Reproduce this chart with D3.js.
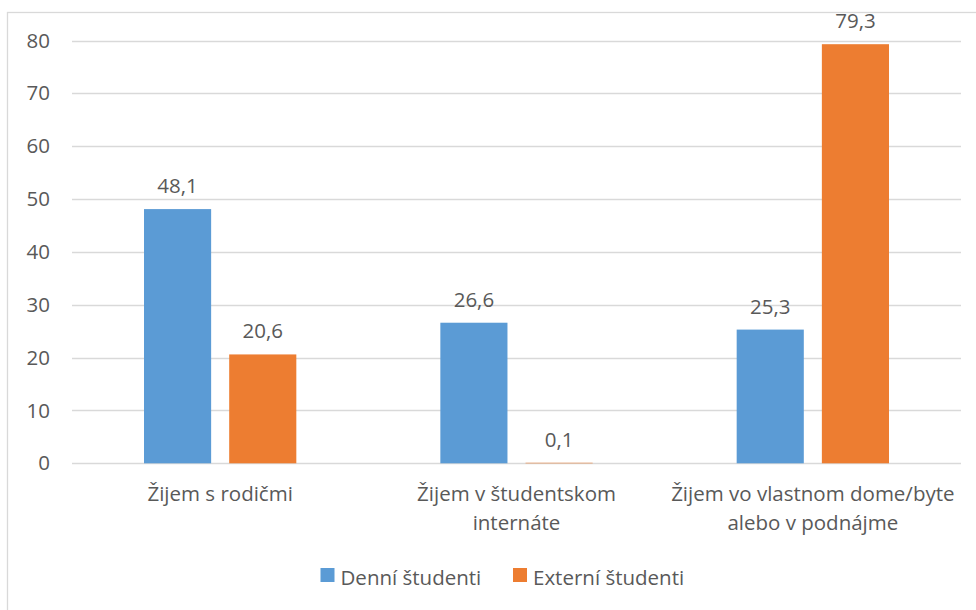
<!DOCTYPE html>
<html>
<head>
<meta charset="utf-8">
<title>Bývanie študentov</title>
<script src="https://d3js.org/d3.v7.min.js"></script>
<style>
  body { margin: 0; background: #fff; }
  text { font-family: "Open Sans", sans-serif; fill: #595959; }
</style>
</head>
<body>
<svg id="chart" width="976" height="610"></svg>
<script>
// data
var categories = ["Žijem s rodičmi", "Žijem v študentskom internáte", "Žijem vo vlastnom dome/byte alebo v podnájme"];
var categoryLines = [["Žijem s rodičmi"], ["Žijem v študentskom", "internáte"], ["Žijem vo vlastnom dome/byte", "alebo v podnájme"]];
var seriesNames = ["Denní študenti", "Externí študenti"];
var denni = [48.1, 26.6, 25.3];
var externi = [20.6, 0.1, 79.3];
var yTicks = [0, 10, 20, 30, 40, 50, 60, 70, 80];
var colors = ["#5B9BD5", "#ED7D31"];

var fs = 20.5;
var svg = d3.select("#chart");

// chart frame (runs off the right and bottom of the picture)
svg.append("rect")
  .attr("x", 7.5).attr("y", 12.5)
  .attr("width", 1000).attr("height", 700)
  .attr("fill", "none")
  .attr("stroke", "#D9D9D9")
  .attr("stroke-width", 1.3);

var left = 72, right = 961;

var y = d3.scaleLinear().domain([0, 80]).range([463.3, 40.5]);

var x0 = d3.scaleBand().domain(categories).range([left, right]).padding(0);
var bw = x0.bandwidth();
var x1 = d3.scaleBand().domain(seriesNames)
  .range([bw * 0.243, bw * 0.757])
  .paddingInner(0.212);

// gridlines
svg.append("g")
  .selectAll("line")
  .data(yTicks)
  .join("line")
  .attr("x1", left).attr("x2", right)
  .attr("y1", function(d) { return Math.round(y(d)) + 0.5; })
  .attr("y2", function(d) { return Math.round(y(d)) + 0.5; })
  .attr("stroke", "#D9D9D9")
  .attr("stroke-width", 1.3);

// y axis labels
var yAxis = svg.append("g")
  .attr("transform", "translate(" + left + ",0)")
  .call(d3.axisLeft(y).tickValues(yTicks).tickSize(0).tickPadding(22));
yAxis.select(".domain").remove();
yAxis.selectAll("text")
  .attr("font-size", fs)
  .attr("font-family", "'Open Sans', sans-serif")
  .attr("fill", "#595959");

var rows = categories.map(function(c, i) {
  return { cat: c, values: [denni[i], externi[i]] };
});

var groups = svg.append("g")
  .selectAll("g")
  .data(rows)
  .join("g")
  .attr("transform", function(d) { return "translate(" + x0(d.cat) + ",0)"; });

groups.selectAll("rect")
  .data(function(d) { return d.values.map(function(v, j) { return { s: seriesNames[j], v: v, j: j }; }); })
  .join("rect")
  .attr("x", function(d) { return x1(d.s); })
  .attr("width", x1.bandwidth())
  .attr("y", function(d) { return y(d.v); })
  .attr("height", function(d) { return y(0) - y(d.v); })
  .attr("fill", function(d) { return colors[d.j]; });

// value labels
groups.selectAll("text.val")
  .data(function(d) { return d.values.map(function(v, j) { return { s: seriesNames[j], v: v }; }); })
  .join("text")
  .attr("class", "val")
  .attr("x", function(d) { return x1(d.s) + x1.bandwidth() / 2; })
  .attr("y", function(d) { return y(d.v) - 16; })
  .attr("text-anchor", "middle")
  .attr("font-size", fs)
  .text(function(d) { return d3.format(".1f")(d.v).replace(".", ","); });

// category labels
svg.append("g")
  .selectAll("text")
  .data(categories)
  .join("text")
  .attr("x", function(d) { return x0(d) + bw / 2; })
  .attr("y", 501)
  .attr("text-anchor", "middle")
  .attr("font-size", fs)
  .each(function(d, i) {
    var t = d3.select(this);
    categoryLines[i].forEach(function(line, k) {
      t.append("tspan")
        .attr("x", x0(d) + bw / 2)
        .attr("dy", k === 0 ? 0 : 28.5)
        .text(line);
    });
  });

// legend
var legendX = [320.5, 513];
var legend = svg.append("g")
  .selectAll("g")
  .data(seriesNames)
  .join("g")
  .attr("transform", function(d, i) { return "translate(" + legendX[i] + ",568)"; });
legend.append("rect")
  .attr("width", 14).attr("height", 14)
  .attr("fill", function(d, i) { return colors[i]; });
legend.append("text")
  .attr("x", 20).attr("y", 17)
  .attr("font-size", fs)
  .text(function(d) { return d; });
</script>
</body>
</html>
